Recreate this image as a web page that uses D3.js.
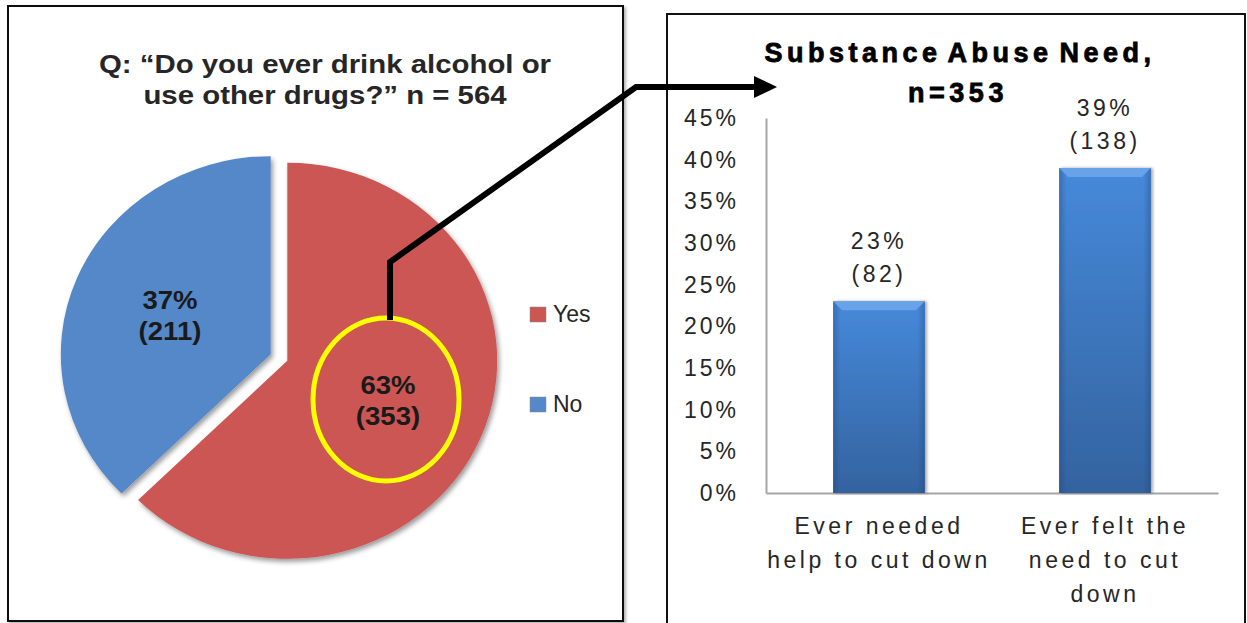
<!DOCTYPE html>
<html>
<head>
<meta charset="utf-8">
<script src="https://cdn.jsdelivr.net/npm/d3@7"></script>
<style>
  body { margin: 0; background: #fff; }
  svg { display: block; }
  text { font-family: "Liberation Sans", Arial, sans-serif; }
</style>
</head>
<body>
<svg id="chart" width="1247" height="623"></svg>
<script>
// ---- data -------------------------------------------------------------
const pieCategories = ["Yes", "No"];
const pieCounts = [353, 211];
const pieColors = ["#cb5652", "#5588c8"];
const pieTitle = ["Q: \u201cDo you ever drink alcohol or", "use other drugs?\u201d n = 564"];

const barCategories = [["Ever needed", "help to cut down"], ["Ever felt the", "need to cut", "down"]];
const barPercents = [23, 39];
const barCounts = [82, 138];
const barTitle = ["Substance Abuse Need,", "n=353"];
const yTicks = [0, 5, 10, 15, 20, 25, 30, 35, 40, 45];

// ---- setup ------------------------------------------------------------
const svg = d3.select("#chart");
const defs = svg.append("defs");

const shadow = defs.append("filter").attr("id", "shadow")
  .attr("x", "-10%").attr("y", "-10%").attr("width", "130%").attr("height", "130%");
shadow.append("feDropShadow").attr("dx", 2).attr("dy", 3).attr("stdDeviation", 2.5)
  .attr("flood-color", "#000").attr("flood-opacity", 0.4);

const frameShadow = defs.append("filter").attr("id", "frameShadow")
  .attr("x", "-5%").attr("y", "-5%").attr("width", "110%").attr("height", "110%");
frameShadow.append("feDropShadow").attr("dx", 2).attr("dy", 2).attr("stdDeviation", 1.5)
  .attr("flood-color", "#000").attr("flood-opacity", 0.3);

const barShadow = defs.append("filter").attr("id", "barShadow")
  .attr("x", "-20%").attr("y", "-5%").attr("width", "140%").attr("height", "110%");
barShadow.append("feDropShadow").attr("dx", 2).attr("dy", 0).attr("stdDeviation", 1.5)
  .attr("flood-color", "#000").attr("flood-opacity", 0.35);

const barGrad = defs.append("linearGradient").attr("id", "barGrad")
  .attr("x1", 0).attr("y1", 0).attr("x2", 0).attr("y2", 1);
barGrad.append("stop").attr("offset", "0%").attr("stop-color", "#4689da");
barGrad.append("stop").attr("offset", "100%").attr("stop-color", "#33639f");

const barSide = defs.append("linearGradient").attr("id", "barSide")
  .attr("x1", 0).attr("y1", 0).attr("x2", 1).attr("y2", 0);
barSide.append("stop").attr("offset", "0%").attr("stop-color", "#1c3f70").attr("stop-opacity", 0.35);
barSide.append("stop").attr("offset", "8%").attr("stop-color", "#1c3f70").attr("stop-opacity", 0);
barSide.append("stop").attr("offset", "92%").attr("stop-color", "#1c3f70").attr("stop-opacity", 0);
barSide.append("stop").attr("offset", "100%").attr("stop-color", "#1c3f70").attr("stop-opacity", 0.35);

// ---- panel frames -----------------------------------------------------
svg.append("rect").attr("x", 8).attr("y", 6).attr("width", 615).attr("height", 615)
  .attr("fill", "#fff").attr("stroke", "#111").attr("stroke-width", 2)
  .attr("filter", "url(#frameShadow)");
svg.append("rect").attr("x", 667).attr("y", 14).attr("width", 578).attr("height", 640)
  .attr("fill", "#fff").attr("stroke", "#111").attr("stroke-width", 2);

// ---- pie panel --------------------------------------------------------
const titleG = svg.append("g").attr("transform", "translate(325,0) scale(1.13,1)");
titleG.selectAll("text").data(pieTitle).join("text")
  .attr("x", 0).attr("y", (d, i) => 73 + i * 31)
  .attr("text-anchor", "middle")
  .attr("font-size", 26).attr("font-weight", "bold").attr("fill", "#262626")
  .text(d => d);

const R = 198, SX = 1.06, EXPLODE = 8.5;
const pcx = 279, pcy = 357.5;
const total = d3.sum(pieCounts);
const arcs = d3.pie().sort(null).value(d => d)(pieCounts);
const arcGen = d3.arc().innerRadius(0).outerRadius(R);
const labelArc = d3.arc().innerRadius(R * 0.52).outerRadius(R * 0.52);

const pieG = svg.append("g").attr("transform", `translate(${pcx},${pcy}) scale(${SX},1)`);
const offset = a => {
  const mid = (a.startAngle + a.endAngle) / 2;
  return [Math.sin(mid) * EXPLODE, -Math.cos(mid) * EXPLODE];
};
const slices = pieG.selectAll("g.slice").data(arcs).join("g")
  .attr("class", "slice")
  .attr("transform", d => `translate(${offset(d)})`);
slices.append("path")
  .attr("d", arcGen)
  .attr("fill", (d, i) => pieColors[i])
  .attr("filter", "url(#shadow)");

slices.each(function (d, i) {
  const [lx, ly] = labelArc.centroid(d);
  const pct = Math.round(d.value / total * 100) + "%";
  const t = d3.select(this).append("text")
    .attr("text-anchor", "middle").attr("font-size", 26).attr("font-weight", "bold")
    .attr("fill", "#1a1a1a");
  t.append("tspan").attr("x", lx).attr("y", ly - 6).text(pct);
  t.append("tspan").attr("x", lx).attr("y", ly + 25).text(`(${d.value})`);
});

// highlight ring around the "Yes" label and connector arrow to the bar panel
const yesArc = arcs[0];
const [yc0, yc1] = labelArc.centroid(yesArc);
const [yo0, yo1] = offset(yesArc);
const ringX = pcx + (yc0 + yo0) * SX, ringY = pcy + yc1 + yo1;
const ringRx = 73, ringRy = 81.5;
svg.append("ellipse").attr("cx", ringX - 2).attr("cy", ringY - 1)
  .attr("rx", ringRx).attr("ry", ringRy)
  .attr("fill", "none").attr("stroke", "#ffff00").attr("stroke-width", 5);

const arrowY = 87, arrowTip = 777;
svg.append("path")
  .attr("d", `M${ringX + 2},${ringY - ringRy + 1} L${ringX + 2},262 L636,${arrowY} L${arrowTip - 18},${arrowY}`)
  .attr("fill", "none").attr("stroke", "#000").attr("stroke-width", 6)
  .attr("stroke-linejoin", "miter");
svg.append("path")
  .attr("d", `M${arrowTip},${arrowY} L${arrowTip - 23},${arrowY - 11} L${arrowTip - 23},${arrowY + 11} Z`)
  .attr("fill", "#000");

// legend
const legend = svg.append("g").attr("transform", "translate(530,307)");
const legItems = legend.selectAll("g").data(pieCategories).join("g")
  .attr("transform", (d, i) => `translate(0,${i * 90})`);
legItems.append("rect").attr("width", 16).attr("height", 15)
  .attr("fill", (d, i) => pieColors[i]).attr("stroke", "#8a8a8a").attr("stroke-width", 0.5);
legItems.append("text").attr("x", 23).attr("y", 15)
  .attr("font-size", 23).attr("fill", "#262626").text(d => d);

// ---- bar panel --------------------------------------------------------
const plot = { left: 766, right: 1218, top: 118, bottom: 493 };
const y = d3.scaleLinear().domain([0, 45]).range([plot.bottom, plot.top]);
const x = d3.scaleBand().domain(d3.range(barPercents.length))
  .range([plot.left, plot.right]).paddingInner(0.594).paddingOuter(0.297);

const btitle = svg.append("text").attr("text-anchor", "middle")
  .attr("font-weight", "bold").attr("font-size", 27).attr("fill", "#000")
  .attr("stroke", "#000").attr("stroke-width", 0.8)
  .attr("letter-spacing", 4.5).attr("word-spacing", -5);
btitle.append("tspan").attr("x", 960).attr("y", 62).text(barTitle[0]);
btitle.append("tspan").attr("x", 958).attr("y", 102).text(barTitle[1]);

const yAxis = svg.append("g").attr("transform", `translate(${plot.left},0)`)
  .call(d3.axisLeft(y).tickValues(yTicks).tickFormat(d => d + "%").tickSize(0).tickSizeOuter(0).tickPadding(27));
yAxis.select(".domain").attr("stroke", "#a6a6a6").attr("stroke-width", 2);
yAxis.selectAll("text").attr("font-size", 23).attr("fill", "#262626")
  .attr("letter-spacing", 3).attr("font-family", "Liberation Sans, Arial, sans-serif");

const xAxis = svg.append("g").attr("transform", `translate(0,${plot.bottom})`)
  .call(d3.axisBottom(x).tickSize(0).tickSizeOuter(0).tickFormat(""));
xAxis.select(".domain").attr("stroke", "#a6a6a6").attr("stroke-width", 2);
xAxis.selectAll(".tick text").remove();
xAxis.selectAll(".tick").each(function (d) {
  const t = d3.select(this).append("text").attr("text-anchor", "middle")
    .attr("font-size", 23).attr("fill", "#262626").attr("letter-spacing", 3.5)
    .attr("font-family", "Liberation Sans, Arial, sans-serif");
  barCategories[d].forEach((line, k) => {
    t.append("tspan").attr("x", 0).attr("y", 41 + k * 34).text(line);
  });
});

const bars = svg.append("g").selectAll("g").data(barPercents).join("g");
bars.append("rect")
  .attr("x", (d, i) => x(i)).attr("y", d => y(d))
  .attr("width", x.bandwidth()).attr("height", d => y(0) - y(d))
  .attr("fill", "url(#barGrad)").attr("filter", "url(#barShadow)");
bars.append("rect")
  .attr("x", (d, i) => x(i)).attr("y", d => y(d))
  .attr("width", x.bandwidth()).attr("height", d => y(0) - y(d))
  .attr("fill", "url(#barSide)");
bars.append("path")
  .attr("d", (d, i) => {
    const x0 = x(i), x1 = x(i) + x.bandwidth(), t = y(d), b = 9;
    return `M${x0},${t} L${x1},${t} L${x1 - b},${t + b} L${x0 + b},${t + b} Z`;
  })
  .attr("fill", "#6ea8ec").attr("opacity", 0.85);

const vlab = bars.append("text").attr("text-anchor", "middle")
  .attr("font-size", 23).attr("fill", "#262626").attr("letter-spacing", 3.5);
vlab.append("tspan").attr("x", (d, i) => x(i) + x.bandwidth() / 2).attr("y", d => y(d) - 52)
  .text(d => d + "%");
vlab.append("tspan").attr("x", (d, i) => x(i) + x.bandwidth() / 2).attr("y", d => y(d) - 19)
  .text((d, i) => `(${barCounts[i]})`);
</script>
</body>
</html>
